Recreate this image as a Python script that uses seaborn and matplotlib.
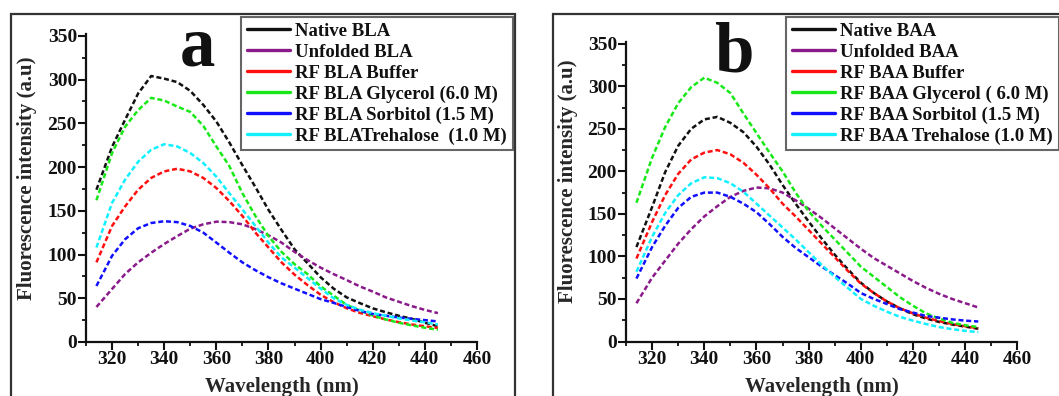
import matplotlib
matplotlib.use("Agg")
import matplotlib.pyplot as plt
from matplotlib.lines import Line2D
from matplotlib.patches import Rectangle
from matplotlib.ticker import MultipleLocator
import seaborn as sns
import pandas as pd

# Emission wavelengths (nm)
wavelength = [314, 320, 325, 330, 335, 340, 345, 350, 355, 360, 365, 370, 375,
              380, 385, 390, 395, 400, 405, 410, 415, 420, 425, 430, 435, 440, 445]

# Panel a: BLA spectra (a.u.)
bla_native = [174, 223, 254, 284, 304, 301, 297, 287, 271, 252, 228, 202, 177,
              151, 128, 106, 90, 74, 61, 51, 44.5, 38.5, 34, 30, 26.5, 22, 18]
bla_unfolded = [40, 60.6, 77.7, 91, 102, 112, 121, 129.5, 134.5, 137.5, 137, 134.5, 129,
                122, 113.6, 103, 93.6, 85, 77.6, 70.8, 63.6, 57.6, 51, 46, 41, 36.7, 33]
bla_buffer = [91, 132.6, 155, 174, 187.5, 195, 198, 195, 187.5, 176, 161, 144, 125,
              108, 91, 77, 65, 54, 45.5, 38.6, 33.3, 29.5, 25.8, 22.7, 20, 18, 16]
bla_glycerol = [162, 216, 246, 265, 279, 276, 269, 263, 247, 223.5, 201, 170, 144,
                121, 103, 89, 77.6, 63.6, 53, 42.4, 36, 30.3, 25.8, 22, 19, 16.3, 14]
bla_sorbitol = [64, 98.5, 117.4, 130, 136, 138, 137, 132.6, 125, 113.6, 102, 91, 82,
                74, 67, 61, 55, 49, 44.7, 40, 35.6, 32, 30, 28, 26.5, 25, 23.5]
bla_trehalose = [108, 159, 185.6, 206, 219.7, 226, 223.5, 216, 204.5, 189, 170, 151.5, 132.6,
                 113.6, 96.6, 85, 73, 61, 50, 42.5, 37, 33, 30, 27, 24.6, 22.5, 20]

# Panel b: BAA spectra (a.u.)
baa_native = [111, 158, 199, 230, 250, 261, 264, 257, 246, 229, 208, 184, 162,
              141, 121, 102, 85, 69, 57, 47, 39, 32, 27, 23, 20, 17.5, 15]
baa_unfolded = [45, 75, 95, 115, 132, 147, 159, 170, 177, 181, 180, 175, 166,
                156, 145, 133, 121, 109, 98, 89, 80, 71, 63, 56, 50, 45, 40]
baa_buffer = [97.5, 140.5, 172, 197, 214, 222, 225, 220, 210, 196, 180, 162, 147,
              131, 115, 99, 83, 68, 57, 47, 39, 33, 28, 24, 20.5, 18, 15.5]
baa_glycerol = [163, 216, 252, 280, 299, 310, 304, 292, 268, 245, 222, 200, 175,
                153, 136, 120, 104, 88, 76, 64, 52, 42, 33, 27, 22, 19, 17]
baa_sorbitol = [74, 111, 136, 157, 170, 175, 175, 170, 162, 152, 138, 123, 110,
                99, 88, 78, 68, 57, 50, 44, 38, 34, 30, 28, 26, 24.5, 23.5]
baa_trehalose = [82, 123, 151, 172, 186, 193, 192, 186, 176, 162, 148, 134, 120,
                 105, 90, 76, 63, 50, 42, 35, 29, 24.5, 20.5, 17, 14.5, 12.5, 11]

labels_a = ["Native BLA", "Unfolded BLA", "RF BLA Buffer", "RF BLA Glycerol (6.0 M)",
            "RF BLA Sorbitol (1.5 M)", "RF BLATrehalose  (1.0 M)"]
labels_b = ["Native BAA", "Unfolded BAA", "RF BAA Buffer", "RF BAA Glycerol ( 6.0 M)",
            "RF BAA Sorbitol (1.5 M)", "RF BAA Trehalose (1.0 M)"]
series_a = [bla_native, bla_unfolded, bla_buffer, bla_glycerol, bla_sorbitol, bla_trehalose]
series_b = [baa_native, baa_unfolded, baa_buffer, baa_glycerol, baa_sorbitol, baa_trehalose]

colors = ["#111111", "#8a1a8a", "#ff1010", "#18e818", "#1010ff", "#10f0ff"]
x_ticks = [320, 340, 360, 380, 400, 420, 440, 460]

sns.set_theme(style="ticks")
plt.rcParams["font.family"] = ["Liberation Serif", "DejaVu Serif"]
plt.rcParams["font.weight"] = "bold"
plt.rcParams["lines.scale_dashes"] = False

W, H = 1059, 396
fig = plt.figure(figsize=(W / 100, H / 100), dpi=100)
fig.patch.set_facecolor("white")


def long_frame(series, labels):
    rows = []
    for vals, lab in zip(series, labels):
        for x, y in zip(wavelength, vals):
            rows.append({"Wavelength": x, "Intensity": y, "Sample": lab})
    return pd.DataFrame(rows)


def panel(rect_px, series, labels, letter, letter_px, legend_px, ylabel_px, xlabel_px):
    left, right, top, bottom = rect_px
    ax = fig.add_axes([left / W, 1 - bottom / H, (right - left) / W, (bottom - top) / H])
    df = long_frame(series, labels)
    sns.lineplot(data=df, x="Wavelength", y="Intensity", hue="Sample",
                 hue_order=labels, palette=colors, legend=False, ax=ax,
                 linewidth=1.8, estimator=None, sort=False)
    for ln in ax.lines:
        ln.set_dashes((3.6, 2.0))
    ax.set_xlim(310, 460)
    ax.set_ylim(0, 352)
    ax.xaxis.set_major_locator(MultipleLocator(20))
    ax.xaxis.set_minor_locator(MultipleLocator(10))
    ax.yaxis.set_major_locator(MultipleLocator(50))
    ax.yaxis.set_minor_locator(MultipleLocator(25))
    ax.set_xticks(x_ticks)
    ax.tick_params(which="major", direction="out", length=5.5, width=1.5,
                   labelsize=14, pad=1, colors="#111111")
    ax.tick_params(which="minor", direction="out", length=3.2, width=1.3, colors="#111111")
    for lab in ax.get_xticklabels() + ax.get_yticklabels():
        lab.set_fontweight("bold")
    sns.despine(ax=ax)
    for s in ("left", "bottom"):
        ax.spines[s].set_linewidth(1.6)
        ax.spines[s].set_color("#111111")
    ax.set_xlabel("Wavelength (nm)", fontsize=15, fontweight="bold", va="center")
    ax.set_ylabel("Fluorescence intensity (a.u)", fontsize=15, fontweight="bold", va="center")
    axw, axh = right - left, bottom - top
    ax.xaxis.set_label_coords((xlabel_px[0] - left) / axw, (bottom - xlabel_px[1]) / axh)
    ax.yaxis.set_label_coords((ylabel_px[0] - left) / axw, (bottom - ylabel_px[1]) / axh)
    ax.set_facecolor("white")

    handles = [Line2D([], [], color=c, lw=2.4) for c in colors]
    leg = ax.legend(handles, labels, loc="upper left",
                    bbox_to_anchor=(legend_px[0] / W, 1 - legend_px[1] / H),
                    bbox_transform=fig.transFigure, fontsize=13.5, frameon=True,
                    fancybox=False, framealpha=1, edgecolor="#666666",
                    handlelength=2.3, handletextpad=0.3, labelspacing=0.2,
                    borderpad=0.3, borderaxespad=0)
    leg.get_frame().set_linewidth(1.5)
    for t in leg.get_texts():
        t.set_fontweight("bold")
        t.set_color("#111111")
    fig.text(letter_px[0] / W, 1 - letter_px[1] / H, letter, fontsize=51,
             fontweight="bold", ha="center", va="baseline", color="#111111")
    return ax


panel((86, 477, 34, 342), series_a, labels_a, "a", (197, 66), (241, 17), (27, 178), (281.5, 387))
panel((626, 1017.4, 42, 341.5), series_b, labels_b, "b", (734, 72), (786, 17), (568, 181), (822, 387))

# Frames around each panel
fig.patches.append(Rectangle((11 / W, -0.2), (515 - 11) / W, 1.2 - 14 / H,
                             transform=fig.transFigure, fill=False,
                             edgecolor="#333333", lw=1.6, figure=fig))
fig.patches.append(Rectangle((553 / W, -0.2), 0.5, 1.2 - 14 / H,
                             transform=fig.transFigure, fill=False,
                             edgecolor="#333333", lw=1.6, figure=fig))

fig.savefig("out.png", dpi=100, facecolor="white")
